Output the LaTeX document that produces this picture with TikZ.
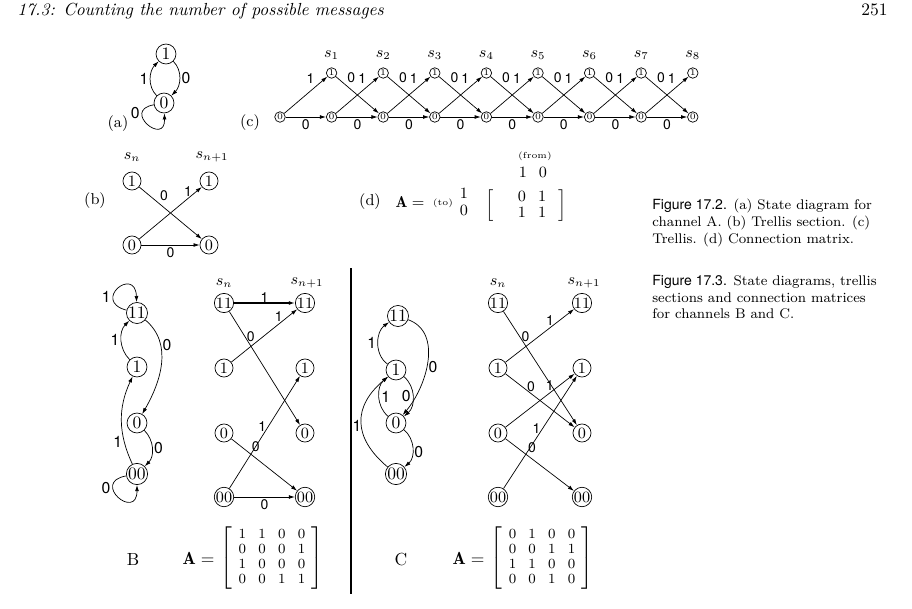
\documentclass[tikz,border=0pt]{standalone}
\usepackage{fontspec}
\newfontfamily\helv{TeX Gyre Heros}
\usetikzlibrary{positioning,arrows.meta}

\begin{document}
\begin{tikzpicture}[x=0.5714pt,y=-0.5714pt,
  >={Latex[length=3.5pt,width=2.2pt]},
  st/.style={circle,draw,minimum size=11.4pt,inner sep=0pt},
  tr/.style={circle,draw,minimum size=10.3pt,inner sep=0pt,font=\small},
  smst/.style={circle,draw,minimum size=6pt,inner sep=0pt,font=\tiny},
  lab/.style={font=\helv\small,inner sep=1pt},
  tlab/.style={font=\helv\footnotesize,inner sep=1pt},
  mtx/.style={font=\footnotesize,inner sep=0pt}]
\useasboundingbox (0,0) rectangle (912,609);

% running head
\node[anchor=base west,font=\itshape,inner sep=0] (head) at (17,15) {17.3: Counting the number of possible messages};
\node[anchor=base east,inner sep=0] (pnum) at (888,15) {251};

% (a) state diagram, channel A
\node[st] (a1) at (166,54) {1};
\node[st] (a0) at (164,103) {0};
\draw[->] (a0) to[out=135,in=225] node[lab,left]{1} (a1);
\draw[->] (a1) to[out=-45,in=45] node[lab,right]{0} (a0);
\draw[->] (a0) to[out=190,in=272,min distance=19pt] node[lab,left,pos=.25]{0} (a0);
\node[font=\small] (alab) at (118,124) {(a)};

% (c) trellis
\node[font=\small] (clab) at (250,123) {(c)};
\foreach \i in {0,...,8}
  \node[smst] (zero\i) at ({280+51.6*\i},117) {0};
\foreach \i in {1,...,8}{
  \node[smst] (one\i) at ({280+51.6*\i},73) {1};
  \node[font=\small] (s\i) at ({280+51.6*\i},55) {$s_{\i}$};
}
\foreach \i [evaluate=\i as \j using int(\i+1)] in {0,...,7}{
  \draw[->] (zero\i) -- node[tlab,below]{0} (zero\j);
  \draw[->] (zero\i) -- node[tlab,above left,pos=.75]{1} (one\j);
}
\foreach \i [evaluate=\i as \j using int(\i+1)] in {1,...,7}
  \draw[->] (one\i) -- node[tlab,above right,pos=.22]{0} (zero\j);

% (b) trellis section
\node[font=\small] (blab) at (95,201) {(b)};
\node[font=\small] (bsn) at (132,157) {$s_n$};
\node[font=\small] (bsn1) at (212,157) {$s_{n+1}$};
\node[tr] (bL1) at (132,181) {1};
\node[tr] (bR1) at (209,181) {1};
\node[tr] (bL0) at (132,245) {0};
\node[tr] (bR0) at (209,245) {0};
\draw[->] (bL1) -- node[tlab,above right,pos=.3]{0} (bR0);
\draw[->] (bL0) -- node[tlab,above,pos=.78]{1} (bR1);
\draw[->] (bL0) -- node[tlab,below]{0} (bR0);

% (d) connection matrix
\node[font=\small] (dlab) at (370,202) {(d)};
\node[font=\small] (dA) at (410,202) {$\mathbf{A} =$};
\node[font=\tiny] (dto) at (443,203) {(to)};
\node[font=\small] (dr1) at (464,193) {1};
\node[font=\small] (dr0) at (464,210) {0};
\node[font=\small,inner sep=0pt] (dmat) at (526,206)
  {$\renewcommand{\arraystretch}{0.85}\left[\begin{array}{@{\hspace{14pt}}c@{\hspace{7pt}}c@{\hspace{7pt}}}0&1\\1&1\end{array}\right]$};
\node[font=\tiny] (dfrom) at (535,156) {(from)};
\node[font=\small] (dc1) at (523,172) {1};
\node[font=\small] (dc0) at (543,172) {0};

% channel B: state diagram
\node[st] (B11) at (137,313) {11};
\node[st] (B1) at (137,367) {1};
\node[st] (B0) at (137,423) {0};
\node[st] (B00) at (137,474) {00};
\draw[->] (B11) to[out=165,in=92,min distance=21pt] node[lab,left,pos=.3]{1} (B11);
\draw[->] (B1) to[out=135,in=225] node[lab,left]{1} (B11);
\draw[->] (B11) to[out=-40,in=60] node[lab,right,pos=.3]{0} (B0);
\draw[->] (B0) to[out=-45,in=45] node[lab,right]{0} (B00);
\draw[->] (B00) to[out=115,in=245] node[lab,left,pos=.25]{1} (B1);
\draw[->] (B00) to[out=190,in=270,min distance=21pt] node[lab,left,pos=.3]{0} (B00);

% channel B: trellis section
\node[font=\small] (Bsn) at (224,283) {$s_n$};
\node[font=\small] (Bsn1) at (307,283) {$s_{n+1}$};
\foreach \nm/\y in {11/303,1/368,0/433,00/497}{
  \node[tr] (BL\nm) at (224,\y) {\nm};
  \node[tr] (BR\nm) at (305,\y) {\nm};
}
\draw[->,thick] (BL11) -- node[tlab,above,inner sep=0pt]{1} (BR11);
\draw[->] (BL1) -- node[tlab,above,pos=.72]{1} (BR11);
\draw[->] (BL11) -- node[tlab,right,pos=.22]{0} (BR0);
\draw[->] (BL0) -- node[tlab,above right,pos=.28]{0} (BR00);
\draw[->] (BL00) -- node[tlab,left,pos=.55]{1} (BR1);
\draw[->] (BL00) -- node[tlab,below]{0} (BR00);

% channel B: matrix
\node (Blab) at (133,560) {B};
\node[mtx] (Bmat) at (272,558)
  {$\renewcommand{\arraystretch}{0.9}\setlength{\arraycolsep}{3.5pt}\left[\begin{array}{cccc}1&1&0&0\\0&0&0&1\\1&0&0&0\\0&0&1&1\end{array}\right]$};
\node[left=0pt of Bmat] (BA) {$\mathbf{A} =$};

% divider
\draw[line width=1.7pt] (351,268) -- (351,594);

% channel C: state diagram
\node[st] (C11) at (398,316) {11};
\node[st] (C1) at (396,370) {1};
\node[st] (C0) at (396,423) {0};
\node[st] (C00) at (396,474) {00};
\draw[->] (C1) to[out=145,in=215] node[lab,left]{1} (C11);
\draw[->] (C11) to[out=-20,in=50] node[lab,right,pos=.55]{0} (C0);
\draw[->] (C1) to[out=-40,in=40] node[lab,left]{0} (C0);
\draw[->] (C0) to[out=140,in=220] node[lab,right]{1} (C1);
\draw[->] (C00) to[out=140,in=220,looseness=1.3] node[lab,left,inner sep=0pt,pos=.45]{1} (C1);
\draw[->] (C0) to[out=-40,in=40] node[lab,right,pos=.6]{0} (C00);

% channel C: trellis section
\node[font=\small] (Csn) at (498,283) {$s_n$};
\node[font=\small] (Csn1) at (584,283) {$s_{n+1}$};
\foreach \nm/\y in {11/303,1/368,0/433,00/497}{
  \node[tr] (CL\nm) at (498,\y) {\nm};
  \node[tr] (CR\nm) at (582,\y) {\nm};
}
\draw[->] (CL11) -- node[tlab,right,pos=.22]{0} (CR0);
\draw[->] (CL1) -- node[tlab,above,pos=.65]{1} (CR11);
\draw[->] (CL1) -- node[tlab,above,pos=.37]{0} (CR0);
\draw[->] (CL0) -- node[tlab,above,pos=.64]{1} (CR1);
\draw[->] (CL00) -- node[tlab,left,pos=.53]{1} (CR1);
\draw[->] (CL0) -- node[tlab,above right,pos=.3]{0} (CR00);

% channel C: matrix
\node (Clab) at (401,560) {C};
\node[mtx] (Cmat) at (542,558)
  {$\renewcommand{\arraystretch}{0.9}\setlength{\arraycolsep}{3.5pt}\left[\begin{array}{cccc}0&1&0&0\\0&0&1&1\\1&1&0&0\\0&0&1&0\end{array}\right]$};
\node[left=0pt of Cmat] (CA) {$\mathbf{A} =$};

% captions
\node[anchor=north west,align=left,font=\footnotesize,inner sep=0pt] (cap2) at (652,199)
  {{\helv Figure 17.2.} (a) State diagram for\\channel A. (b) Trellis section. (c)\\Trellis. (d) Connection matrix.};
\node[anchor=north west,align=left,font=\footnotesize,inner sep=0pt] (cap3) at (652,275)
  {{\helv Figure 17.3.} State diagrams, trellis\\sections and connection matrices\\for channels B and C.};
\end{tikzpicture}
\end{document}
